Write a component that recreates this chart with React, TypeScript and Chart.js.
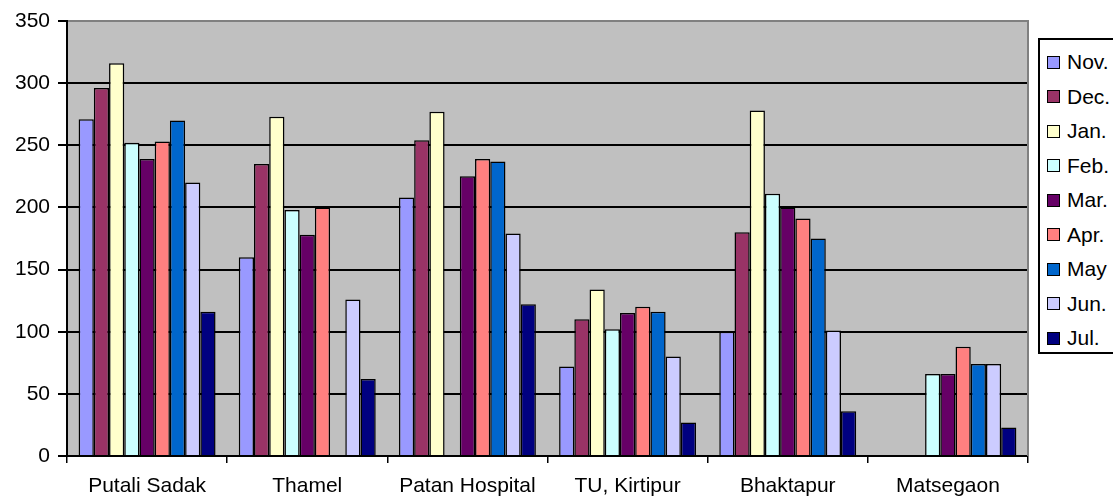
import React, { useEffect, useRef } from "react";
import { Chart, registerables } from "chart.js";

Chart.register(...registerables);

const categories = ["Putali Sadak", "Thamel", "Patan Hospital", "TU, Kirtipur", "Bhaktapur", "Matsegaon"];
const months = ["Nov.", "Dec.", "Jan.", "Feb.", "Mar.", "Apr.", "May", "Jun.", "Jul."];

const nov = [271, 160, 208, 72, 100, null];
const dec = [296, 235, 254, 110, 180, null];
const jan = [316, 273, 277, 134, 278, null];
const feb = [252, 198, null, 102, 211, 66];
const mar = [239, 178, 225, 115, 200, 66];
const apr = [253, 200, 239, 120, 191, 88];
const may = [270, null, 237, 116, 175, 74];
const jun = [220, 126, 179, 80, 101, 74];
const jul = [116, 62, 122, 27, 36, 23];

const seriesValues = [nov, dec, jan, feb, mar, apr, may, jun, jul];
const colors = ["#9999FF", "#993366", "#FFFFCC", "#CCFFFF", "#660066", "#FF8080", "#0066CC", "#CCCCFF", "#000080"];
const yTicks = [0, 50, 100, 150, 200, 250, 300, 350];

const plotBg = {
  id: "plotBg",
  beforeDraw(chart: any) {
    const { ctx, chartArea: a } = chart;
    ctx.save();
    ctx.fillStyle = "#C0C0C0";
    ctx.fillRect(a.left, a.top, a.right - a.left, a.bottom - a.top);
    ctx.restore();
  },
  afterDraw(chart: any) {
    const { ctx, chartArea: a } = chart;
    ctx.save();
    ctx.strokeStyle = "#808080";
    ctx.lineWidth = 2;
    ctx.beginPath();
    ctx.moveTo(a.left + 1, a.top);
    ctx.lineTo(a.right, a.top);
    ctx.lineTo(a.right, a.bottom);
    ctx.stroke();
    ctx.restore();
  },
};

export default function App() {
  const ref = useRef<HTMLCanvasElement>(null);
  useEffect(() => {
    document.body.style.margin = "0";
    const chart = new Chart(ref.current!, {
      type: "bar",
      data: {
        labels: categories,
        datasets: months.map((m, i) => ({
          label: m,
          data: seriesValues[i] as any,
          backgroundColor: colors[i],
          borderColor: "#000",
          borderWidth: 1.5,
          categoryPercentage: 0.855,
          barPercentage: 1,
        })),
      },
      options: {
        animation: false,
        responsive: false,
        devicePixelRatio: 1,
        layout: { padding: { top: 21, right: 85, left: 0, bottom: 0 } },
        plugins: { legend: { display: false }, tooltip: { enabled: false } },
        scales: {
          x: {
            grid: { offset: true, drawOnChartArea: false, drawTicks: true, tickLength: 7, color: "#000", lineWidth: 1.5 },
            border: { color: "#000", width: 2 },
            ticks: { color: "#000", font: { family: "Arial", size: 21 }, padding: 11, maxRotation: 0, autoSkip: false },
            afterFit: (s: any) => { s.height = 42; },
          },
          y: {
            min: 0,
            max: 350,
            afterBuildTicks: (s: any) => { s.ticks = yTicks.map((v) => ({ value: v })); },
            grid: { color: "#000", lineWidth: 2, tickLength: 9 },
            border: { color: "#000", width: 2 },
            ticks: { color: "#000", font: { family: "Arial", size: 21 }, padding: 8 },
            afterFit: (s: any) => { s.width = 67; },
          },
        },
      },
      plugins: [plotBg],
    });
    return () => chart.destroy();
  }, []);

  return (
    <div style={{ position: "relative", width: 1113, height: 498, overflow: "hidden", background: "#fff" }}>
      <canvas ref={ref} width={1113} height={498} style={{ display: "block" }} />
      <div
        style={{
          position: "absolute",
          left: 1038,
          top: 38,
          width: 100,
          height: 312,
          border: "2px solid #000",
          background: "#fff",
          fontFamily: "Arial",
          fontSize: 21,
        }}
      >
        {months.map((m, i) => (
          <div
            key={m}
            style={{ position: "absolute", left: 7, top: 10 + i * 34.5, height: 24, display: "flex", alignItems: "center", whiteSpace: "nowrap" }}
          >
            <span style={{ display: "inline-block", width: 11, height: 11, background: colors[i], border: "1.5px solid #000", marginRight: 7 }} />
            <span>{m}</span>
          </div>
        ))}
      </div>
    </div>
  );
}
